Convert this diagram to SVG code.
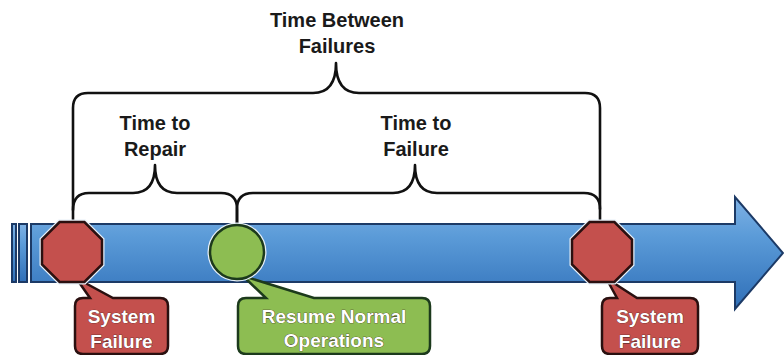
<svg xmlns="http://www.w3.org/2000/svg" width="784" height="355" viewBox="0 0 784 355">
<defs>
<linearGradient id="blue" x1="0" y1="0" x2="0" y2="1">
<stop offset="0" stop-color="#7fb2e5"/>
<stop offset="0.35" stop-color="#5b9bd8"/>
<stop offset="1" stop-color="#2f6fb8"/>
</linearGradient>
</defs>
<style>
.lbl{font-family:"Liberation Sans",Arial,sans-serif;font-size:20px;font-weight:bold;fill:#1a1a1a;text-anchor:middle}
.cl{font-family:"Liberation Sans",Arial,sans-serif;font-size:19px;font-weight:bold;fill:#ffffff;text-anchor:middle;stroke:#3a2020;stroke-width:0.6;paint-order:stroke}
.brace{fill:none;stroke:#111111;stroke-width:2.6;stroke-linejoin:round;stroke-linecap:round}
.arrow{fill:url(#blue);stroke:#1c3a66;stroke-width:2}
.red{fill:#c4504d;stroke:#2a1010;stroke-width:2.5}
.green{fill:#8dbd52;stroke:#1c3a1c;stroke-width:2.5}
.glow{fill:none;stroke:#e8f0f8;stroke-width:5}
</style>
<rect width="784" height="355" fill="#ffffff"/>
<g id="timeline">
<rect class="arrow" x="12" y="224" width="4" height="58"/>
<rect class="arrow" x="19" y="224" width="8" height="58"/>
<path class="arrow" d="M31,224 L735,224 L735,197 L783,253 L735,309 L735,282 L31,282 Z"/>
</g>
<g id="connectors">
<path class="brace" d="M73,222 L73,108 Q73,93 88,93 L313,93 Q336,93 336,63 Q336,93 359,93 L585,93 Q600,93 600,108 L600,222"/>
<path class="brace" d="M73,210 Q73,193 89,193 L133,193 Q155,193 155,165 Q155,193 177,193 L221,193 Q237,193 237,209 L237,224"/>
<path class="brace" d="M237,224 L237,209 Q237,193 253,193 L393,193 Q415,193 415,165 Q415,193 437,193 L584,193 Q600,193 600,209"/>
</g>
<g id="label-tbf">
<text class="lbl" x="337" y="27">Time Between</text>
<text class="lbl" x="337" y="53">Failures</text>
</g>
<g id="label-ttr">
<text class="lbl" x="155" y="130">Time to</text>
<text class="lbl" x="155" y="156">Repair</text>
</g>
<g id="label-ttf">
<text class="lbl" x="416" y="130">Time to</text>
<text class="lbl" x="416" y="156">Failure</text>
</g>
<g id="failure1">
<path class="red" d="M83,298 L90,298 L76,278 L113,298 L160,298 Q168,298 168,306 L168,346 Q168,354 160,354 L83,354 Q75,354 75,346 L75,306 Q75,298 83,298 Z"/>
<polygon class="glow" points="59.6,222 84.4,222 102,239.6 102,264.4 84.4,282 59.6,282 42,264.4 42,239.6"/>
<polygon class="red" points="59.6,222 84.4,222 102,239.6 102,264.4 84.4,282 59.6,282 42,264.4 42,239.6"/>
<text class="cl" x="121.5" y="323">System</text>
<text class="cl" x="121.5" y="348">Failure</text>
</g>
<g id="resume">
<path class="green" d="M246,298 L266,298 L243,276 L314,298 L422,298 Q430,298 430,306 L430,346 Q430,354 422,354 L246,354 Q238,354 238,346 L238,306 Q238,298 246,298 Z"/>
<circle class="glow" cx="237" cy="252" r="27"/>
<circle class="green" cx="237" cy="252" r="27"/>
<text class="cl" x="334" y="323">Resume Normal</text>
<text class="cl" x="334" y="347">Operations</text>
</g>
<g id="failure2">
<path class="red" d="M610,298 L617,298 L606,278 L637,298 L690,298 Q698,298 698,306 L698,346 Q698,354 690,354 L610,354 Q602,354 602,346 L602,306 Q602,298 610,298 Z"/>
<polygon class="glow" points="589.6,222 614.4,222 632,239.6 632,264.4 614.4,282 589.6,282 572,264.4 572,239.6"/>
<polygon class="red" points="589.6,222 614.4,222 632,239.6 632,264.4 614.4,282 589.6,282 572,264.4 572,239.6"/>
<text class="cl" x="650" y="323">System</text>
<text class="cl" x="650" y="348">Failure</text>
</g>
</svg>
